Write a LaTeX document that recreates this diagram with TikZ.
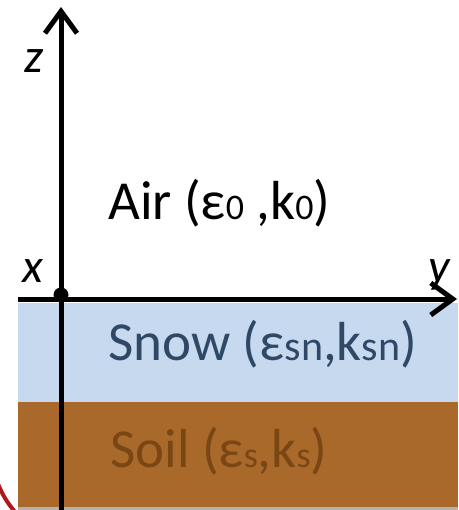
\documentclass[tikz,border=0pt]{standalone}
\usepackage{fontspec}
\setmainfont{Carlito}
\usetikzlibrary{arrows.meta}
\definecolor{snowblue}{HTML}{C6D9EE}
\definecolor{soilbrown}{HTML}{A9692B}
\definecolor{snowtext}{HTML}{2E4866}
\definecolor{soiltext}{HTML}{7A4614}
\definecolor{arcred}{HTML}{B01818}
\tikzstyle{axis}=[line width=5pt,-{Straight Barb[length=22pt,width=32pt,line width=5pt]}]
\tikzstyle{layerlbl}=[anchor=base west,inner sep=0pt,font=\fontsize{55}{55}\selectfont]
\tikzstyle{axislbl}=[anchor=base west,inner sep=0pt,font=\fontsize{48}{48}\selectfont\itshape]
\newcommand{\lsub}[1]{{\fontsize{36}{36}\selectfont #1}}
\newcommand{\bsub}[1]{{\fontsize{42}{42}\selectfont #1}}
\begin{document}
\begin{tikzpicture}[x=1pt,y=-1pt]
  \useasboundingbox (0,0) rectangle (458,510);
  % layers
  \fill[snowblue] (18,303) rectangle (458,402);
  \fill[soilbrown] (18,402) rectangle (458,507);
  \fill[gray!60] (18,507) rectangle (458,510);
  % axes
  \coordinate (O) at (61,299);
  \coordinate (zbot) at (61,510);
  \coordinate (ztop) at (61,7);
  \coordinate (yleft) at (18,299);
  \coordinate (yright) at (457,299);
  \draw[axis] (zbot) -- (ztop);
  \draw[axis] (yleft) -- (yright);
  \fill (61,295) circle (7.5);
  \node[axislbl] (zl) at (24,73) {z};
  \node[axislbl] (xl) at (22,282) {x};
  \node[axislbl] (yl) at (428,282) {y};
  % labels
  \node[layerlbl] (air) at (108,220) {Air (ε\lsub{0} ,k\lsub{0})};
  \node[layerlbl,text=snowtext] (snow) at (108,360) {Snow (ε\bsub{sn},k\bsub{sn})};
  \node[layerlbl,text=soiltext] (soil) at (110,467) {Soil (ε\lsub{s},k\lsub{s})};
  % arc
  \draw[arcred,line width=4pt] (-2,484) to[bend right=8] (15,512);
\end{tikzpicture}
\end{document}
